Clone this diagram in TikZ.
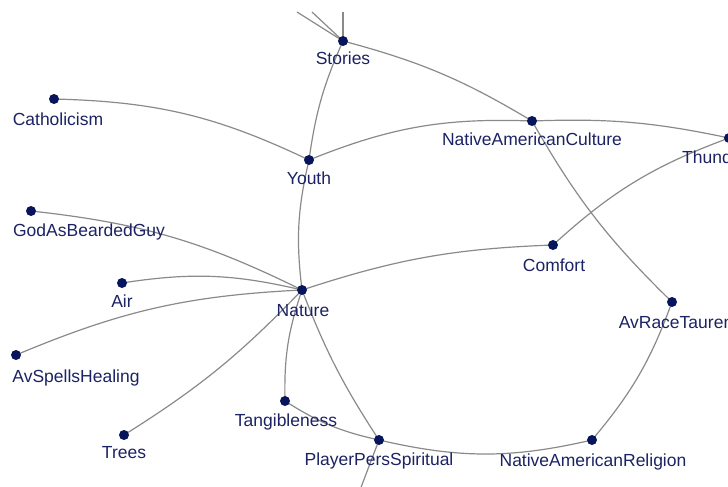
\documentclass[tikz,border=0pt]{standalone}
\usepackage{fontspec}
\setmainfont{Liberation Sans}
\usetikzlibrary{backgrounds}
\definecolor{dotc}{RGB}{8,20,92}
\definecolor{txtc}{RGB}{28,34,100}
\definecolor{edgec}{RGB}{138,138,138}
\begin{document}
\begin{tikzpicture}[x=1pt,y=-1pt,
  dot/.style={circle,fill=dotc,inner sep=0pt,minimum size=10pt},
  lab/.style={anchor=base,text=txtc,inner sep=0pt,font=\fontsize{17.5}{20}\selectfont},
  edge/.style={draw=edgec,line width=1.2pt}]
\useasboundingbox (0,0) rectangle (728,487);
\clip (0,0) rectangle (728,487);
% nodes
\node[dot] (stories) at (343,41) {};
\node[dot] (cath) at (54,99) {};
\node[dot] (nac) at (532,121) {};
\node[dot] (thunder) at (729,138) {};
\node[dot] (youth) at (309,160) {};
\node[dot] (god) at (31,211) {};
\node[dot] (comfort) at (553,245) {};
\node[dot] (air) at (122,283) {};
\node[dot] (nature) at (302,290) {};
\node[dot] (tauren) at (672,302) {};
\node[dot] (spells) at (16,355) {};
\node[dot] (tang) at (285,401) {};
\node[dot] (trees) at (124,435) {};
\node[dot] (pps) at (379,440) {};
\node[dot] (nar) at (592,440) {};
\coordinate (top1) at (343,12);
\coordinate (top2) at (312,12);
\coordinate (top3) at (297,12);
\coordinate (bot1) at (360,490);
% labels
\node[lab] (stories-l) at (343,65) {Stories};
\node[lab] (cath-l) at (58,125) {Catholicism};
\node[lab] (nac-l) at (532,145) {NativeAmericanCulture};
\node[lab,anchor=base west] (thunder-l) at (682,163) {Thunder};
\node[lab] (youth-l) at (309,184) {Youth};
\node[lab] (god-l) at (89,236) {GodAsBeardedGuy};
\node[lab] (comfort-l) at (554,271) {Comfort};
\node[lab] (air-l) at (122,307) {Air};
\node[lab] (nature-l) at (303,316) {Nature};
\node[lab] (tauren-l) at (676,328) {AvRaceTauren};
\node[lab] (spells-l) at (76,382) {AvSpellsHealing};
\node[lab] (tang-l) at (286,426) {Tangibleness};
\node[lab] (trees-l) at (124,458) {Trees};
\node[lab] (pps-l) at (379,465) {PlayerPersSpiritual};
\node[lab] (nar-l) at (593,466) {NativeAmericanReligion};
% edges
\begin{scope}[on background layer]
\draw[edge] (stories.center) -- (top1);
\draw[edge] (stories.center) -- (top2);
\draw[edge] (stories.center) -- (top3);
\draw[edge] (stories.center) to[bend left=8] (nac.center);
\draw[edge] (stories.center) to[bend right=8] (youth.center);
\draw[edge] (cath.center) to[bend left=12] (youth.center);
\draw[edge] (youth.center) to[bend left=12] (nac.center);
\draw[edge] (nac.center) to[bend left=7] (thunder.center);
\draw[edge] (nac.center) to[bend right=8] (tauren.center);
\draw[edge] (thunder.center) to[bend right=11] (comfort.center);
\draw[edge] (comfort.center) to[bend right=8] (nature.center);
\draw[edge] (youth.center) to[bend right=10] (nature.center);
\draw[edge] (god.center) to[bend left=10] (nature.center);
\draw[edge] (air.center) to[bend left=11] (nature.center);
\draw[edge] (spells.center) to[bend left=10] (nature.center);
\draw[edge] (trees.center) to[bend right=7] (nature.center);
\draw[edge] (nature.center) to[bend right=10] (tang.center);
\draw[edge] (nature.center) to[bend right=6] (pps.center);
\draw[edge] (tang.center) to[bend right=10] (pps.center);
\draw[edge] (nar.center) to[bend left=13] (pps.center);
\draw[edge] (tauren.center) to[bend left=10] (nar.center);
\draw[edge] (pps.center) -- (bot1);
\end{scope}
\end{tikzpicture}
\end{document}
